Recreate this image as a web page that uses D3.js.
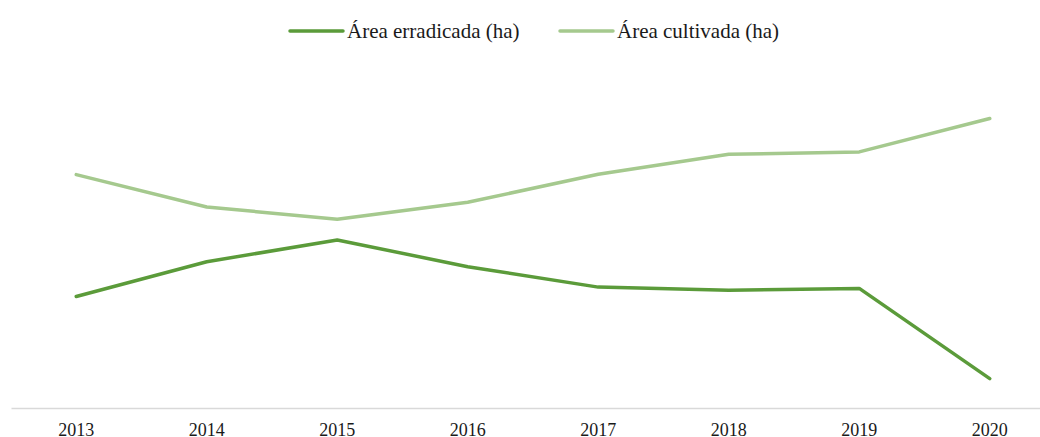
<!DOCTYPE html>
<html>
<head>
<meta charset="utf-8">
<script src="https://cdn.jsdelivr.net/npm/d3@7"></script>
<style>
  html, body { margin: 0; padding: 0; background: #fff; }
  svg { display: block; }
  text { font-family: "Liberation Serif", "Times New Roman", serif; fill: #1a1a1a; }
</style>
</head>
<body>
<svg id="chart" width="1040" height="437"></svg>
<script>
// Coca area, hectares per year
const years = ["2013", "2014", "2015", "2016", "2017", "2018", "2019", "2020"];
const erradicada = [23785, 31205, 35868, 30150, 25800, 25134, 25526, 6272];
const cultivada = [49800, 42900, 40300, 43900, 49900, 54134, 54655, 61777];
const seriesNames = ["Área erradicada (ha)", "Área cultivada (ha)"];
const seriesColors = ["#5b9b3a", "#a5c98e"];

const W = 1040, H = 437;
const margin = { left: 11, right: -15, top: 80, bottom: 29 };
const svg = d3.select("#chart");

const x = d3.scaleBand()
  .domain(years)
  .range([margin.left, W - margin.right])
  .padding(0);

const y = d3.scaleLinear()
  .domain([0, 70000])
  .range([H - margin.bottom, margin.top]);

// Category axis: light baseline, no tick marks
const xAxis = svg.append("g")
  .attr("transform", `translate(0,${H - margin.bottom})`)
  .call(d3.axisBottom(x).tickSize(0).tickPadding(15));
xAxis.select(".domain").attr("stroke", "#d9d9d9").attr("stroke-width", 1.5);
xAxis.selectAll("text")
  .attr("font-size", 18)
  .attr("font-family", "Liberation Serif, serif")
  .attr("fill", "#1a1a1a");

const line = d3.line()
  .x((d, i) => x(years[i]) + x.bandwidth() / 2)
  .y(d => y(d));

[erradicada, cultivada].forEach((vals, k) => {
  svg.append("path")
    .datum(vals)
    .attr("fill", "none")
    .attr("stroke", seriesColors[k])
    .attr("stroke-width", 3.5)
    .attr("stroke-linejoin", "round")
    .attr("stroke-linecap", "round")
    .attr("d", line);
});

// Legend
const legendX = [290, 560];
const legend = svg.append("g");
seriesNames.forEach((name, k) => {
  const g = legend.append("g").attr("transform", `translate(${legendX[k]},31)`);
  g.append("line")
    .attr("x1", 0).attr("x2", 53)
    .attr("stroke", seriesColors[k])
    .attr("stroke-width", 3.5)
    .attr("stroke-linecap", "round");
  g.append("text")
    .attr("x", 57)
    .attr("y", 7)
    .attr("font-size", 21)
    .text(name);
});
</script>
</body>
</html>
